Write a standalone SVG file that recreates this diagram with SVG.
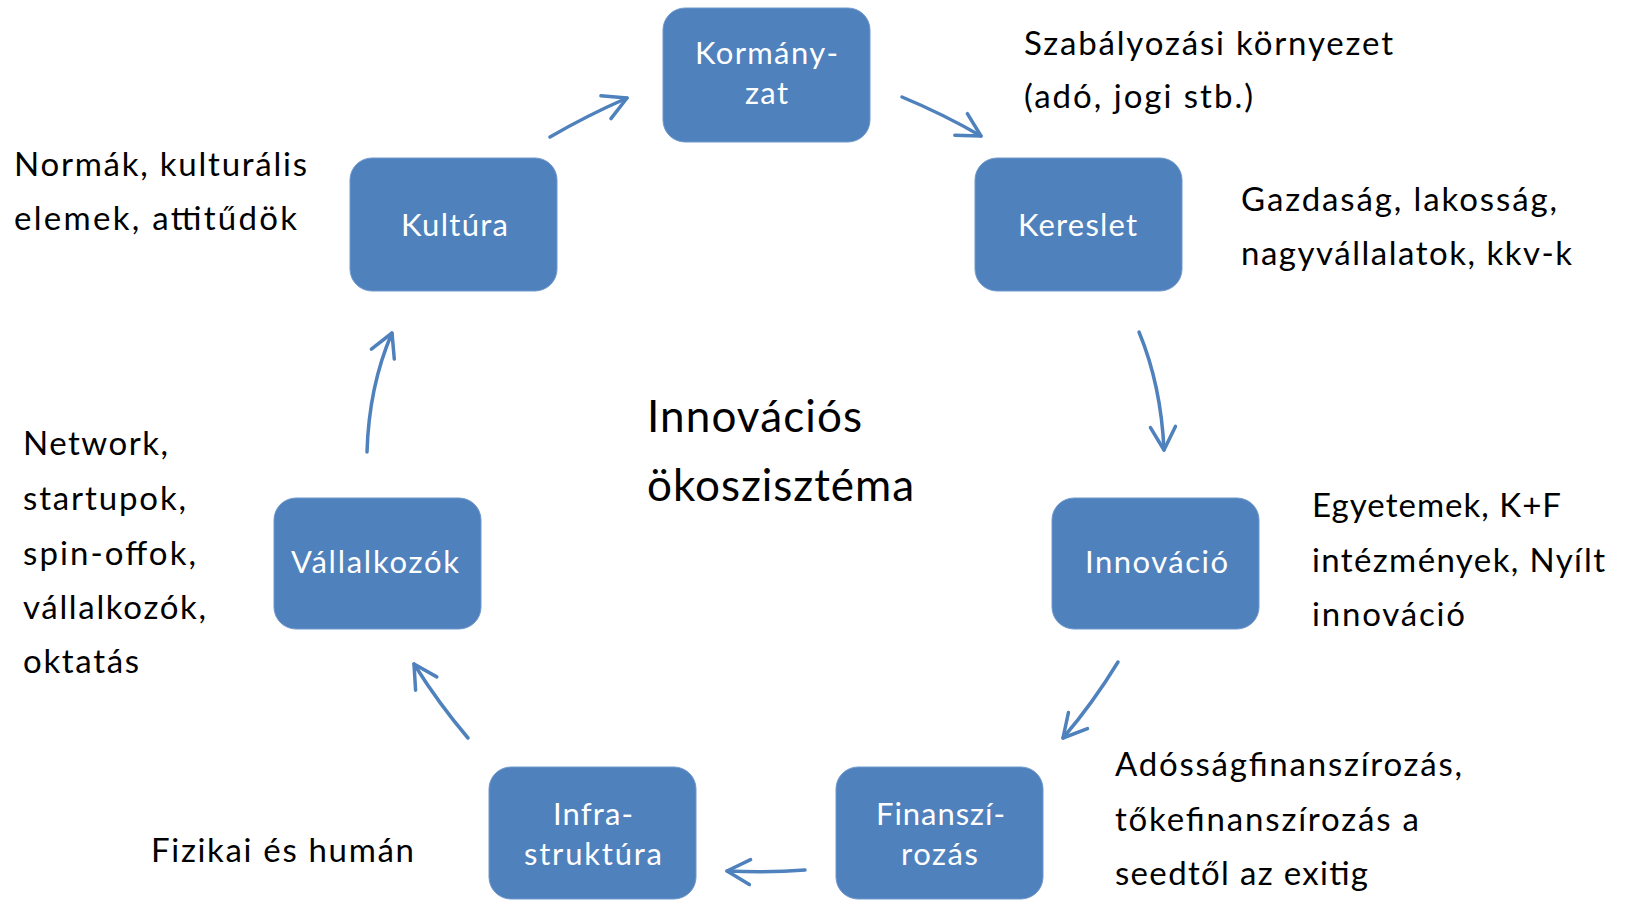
<svg xmlns="http://www.w3.org/2000/svg" width="1626" height="901" viewBox="0 0 1626 901">
<defs>
<style>
.box{fill:#4F81BD;stroke:#6E97CB;stroke-width:1}
.bt{font-family:Lato,"Open Sans","Liberation Sans",sans-serif;font-size:31px;fill:#ffffff;text-anchor:middle}
.t{font-family:Lato,"Open Sans","Liberation Sans",sans-serif;font-size:33px;fill:#000000}
.big{font-family:Lato,"Open Sans","Liberation Sans",sans-serif;font-size:44px;fill:#000000}
.c{fill:none;stroke:#4F81BD;stroke-width:3.5;stroke-linecap:round}
</style>
<marker id="ah" markerUnits="userSpaceOnUse" markerWidth="40" markerHeight="40" viewBox="-30 -20 40 40" refX="0" refY="0" orient="auto">
<path d="M -23 -12.5 L 0 0 L -23 12.5" fill="none" stroke="#4F81BD" stroke-width="3.5" stroke-linecap="round" stroke-linejoin="round"/>
</marker>
</defs>
<rect width="1626" height="901" fill="#ffffff"/>

<g id="connectors">
<path class="c" d="M 550 137 Q 586 116 627 98" marker-end="url(#ah)"/>
<path class="c" d="M 902 97 Q 943 114 981 136" marker-end="url(#ah)"/>
<path class="c" d="M 1139 332 Q 1161 385 1164 450" marker-end="url(#ah)"/>
<path class="c" d="M 1118 662 Q 1093 703 1063 738" marker-end="url(#ah)"/>
<path class="c" d="M 805 870 Q 768 873 727 871" marker-end="url(#ah)"/>
<path class="c" d="M 468 738 Q 439 704 414 664" marker-end="url(#ah)"/>
<path class="c" d="M 367 452 Q 369 386 392 333" marker-end="url(#ah)"/>
</g>

<g id="node-kormanyzat">
<rect class="box" x="663" y="8" width="207" height="134" rx="22"/>
<text class="bt" x="766.5" y="64" textLength="143">Kormány-</text>
<text class="bt" x="766.5" y="104" textLength="43">zat</text>
</g>
<g id="node-kultura">
<rect class="box" x="350" y="158" width="207" height="133" rx="22"/>
<text class="bt" x="454.5" y="236" textLength="107">Kultúra</text>
</g>
<g id="node-kereslet">
<rect class="box" x="975" y="158" width="207" height="133" rx="22"/>
<text class="bt" x="1077.5" y="236" textLength="119">Kereslet</text>
</g>
<g id="node-vallalkozok">
<rect class="box" x="274" y="498" width="207" height="131" rx="22"/>
<text class="bt" x="375" y="573" textLength="168">Vállalkozók</text>
</g>
<g id="node-innovacio">
<rect class="box" x="1052" y="498" width="207" height="131" rx="22"/>
<text class="bt" x="1156.5" y="573" textLength="143">Innováció</text>
</g>
<g id="node-infrastruktura">
<rect class="box" x="489" y="767" width="207" height="132" rx="22"/>
<text class="bt" x="593" y="825" textLength="80">Infra-</text>
<text class="bt" x="593" y="865" textLength="138">struktúra</text>
</g>
<g id="node-finanszirozas">
<rect class="box" x="836" y="767" width="207" height="132" rx="22"/>
<text class="bt" x="940.5" y="825" textLength="129">Finanszí-</text>
<text class="bt" x="939.5" y="865" textLength="77">rozás</text>
</g>

<g id="labels">
<text class="t" x="1024" y="55" textLength="369">Szabályozási környezet</text>
<text class="t" x="1024" y="108" textLength="229">(adó, jogi stb.)</text>
<text class="t" x="14" y="176" textLength="293">Normák, kulturális</text>
<text class="t" x="14" y="230" textLength="283">elemek, attitűdök</text>
<text class="t" x="1241" y="211" textLength="316">Gazdaság, lakosság,</text>
<text class="t" x="1241" y="265" textLength="331">nagyvállalatok, kkv-k</text>
<text class="t" x="23" y="455" textLength="145">Network,</text>
<text class="t" x="23" y="510" textLength="163">startupok,</text>
<text class="t" x="23" y="565" textLength="173">spin-offok,</text>
<text class="t" x="23" y="619" textLength="183">vállalkozók,</text>
<text class="t" x="23" y="673" textLength="116">oktatás</text>
<text class="t" x="1312" y="517" textLength="249">Egyetemek, K+F</text>
<text class="t" x="1312" y="572" textLength="293">intézmények, Nyílt</text>
<text class="t" x="1312" y="626" textLength="153">innováció</text>
<text class="t" x="1115" y="776" textLength="347">Adósságfinanszírozás,</text>
<text class="t" x="1115" y="831" textLength="304">tőkefinanszírozás a</text>
<text class="t" x="1115" y="885" textLength="253">seedtől az exitig</text>
<text class="t" x="151" y="862" textLength="263">Fizikai és humán</text>
<text class="big" x="647" y="432" textLength="215">Innovációs</text>
<text class="big" x="647" y="501" textLength="267">ökoszisztéma</text>
</g>
</svg>
